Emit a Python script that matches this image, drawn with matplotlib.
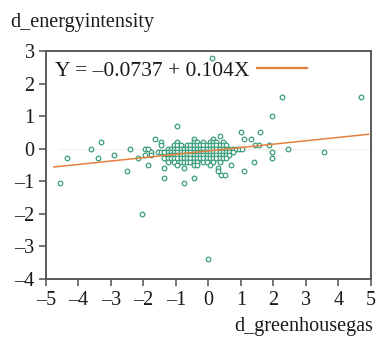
import matplotlib
matplotlib.use("Agg")
import matplotlib.pyplot as plt
from matplotlib.lines import Line2D

plt.rcParams['font.family'] = ['Liberation Serif', 'DejaVu Serif']
plt.rcParams['axes.unicode_minus'] = True

# scatter data, grouped by row (y value) -> list of x values
rows = {
    2.8: [0.1],
    1.6: [2.25, 4.7],
    1.0: [1.95],
    0.7: [-0.95],
    0.5: [1.0, 1.6],
    0.4: [0.35],
    0.3: [-1.65, -0.45, 0.15, 1.1, 1.3],
    0.2: [-3.3, -1.45, -0.95, -0.45, -0.35, -0.15, 0.05, 0.15, 0.25, 0.45],
    0.1: [-1.45, -1.05, -0.95, -0.85, -0.65, -0.55, -0.45, -0.35, -0.25, -0.15,
          -0.05, 0.05, 0.15, 0.25, 0.35, 0.45, 0.55, 1.45, 1.55, 1.85],
    0.0: [-3.6, -2.4, -1.95, -1.85, -1.25, -1.15, -1.05, -0.95, -0.85, -0.75,
          -0.65, -0.55, -0.45, -0.35, -0.25, -0.15, -0.05, 0.05, 0.15, 0.25,
          0.35, 0.45, 0.55, 0.65, 0.75, 0.85, 0.95, 1.05, 2.45],
    -0.1: [-1.75, -1.55, -1.45, -1.35, -1.25, -1.15, -1.05, -0.95, -0.85, -0.75,
           -0.65, -0.55, -0.45, -0.35, -0.25, -0.15, -0.05, 0.05, 0.15, 0.25,
           0.35, 0.45, 0.55, 0.65, 0.75, 1.95, 3.55],
    -0.2: [-2.9, -1.95, -1.75, -1.25, -1.15, -1.05, -0.95, -0.85, -0.75, -0.65,
           -0.55, -0.45, -0.35, -0.25, -0.15, -0.05, 0.05, 0.15, 0.25, 0.35,
           0.45, 0.55, 0.65],
    -0.3: [-4.35, -3.4, -2.15, -1.35, -1.25, -1.15, -1.05, -0.95, -0.85, -0.75,
           -0.65, -0.55, -0.45, -0.35, -0.25, -0.15, -0.05, 0.05, 0.15, 0.25,
           0.35, 0.45, 0.55, 1.95],
    -0.4: [-1.25, -1.05, -0.85, -0.75, -0.65, -0.55, -0.45, -0.35, -0.15, -0.05,
           0.15, 0.35, 1.4],
    -0.5: [-1.85, -0.95, -0.45, -0.35, 0.05, 0.7],
    -0.6: [-1.35, -0.75, 0.3],
    -0.7: [-2.5, 0.3, 1.1],
    -0.8: [0.4, 0.5],
    -0.9: [-1.35, -0.45],
    -1.05: [-4.55, -0.75],
    -2.0: [-2.05],
    -3.4: [0.0],
}
x_vals = [x for yv, xs in rows.items() for x in xs]
y_vals = [yv for yv, xs in rows.items() for x in xs]

intercept = -0.0737
slope = 0.104
fit_x = [-4.75, 4.92]
fit_y = [intercept + slope * v for v in fit_x]

x_ticks = [-5, -4, -3, -2, -1, 0, 1, 2, 3, 4, 5]
y_ticks = [-4, -3, -2, -1, 0, 1, 2, 3]

green = '#3a9e7c'
orange = '#e5803f'
frame = '#5a5a5a'

fig = plt.figure(figsize=(3.77, 3.38), dpi=100)
ax = fig.add_axes([0.1212, 0.176, 0.984 - 0.1212, 0.849 - 0.176])

ax.hlines(0, -4.6, 4.9, colors='#dddddd', linestyles=(0, (1, 1.5)), linewidth=0.8, zorder=1)
ax.scatter(x_vals, y_vals, s=11, facecolors='white', edgecolors=green, linewidths=0.9, zorder=3)
ax.plot(fit_x, fit_y, color=orange, linewidth=1.1, zorder=4)

ax.set_xlim(-5, 5)
ax.set_ylim(-4, 3)
ax.set_xticks(x_ticks)
ax.set_yticks(y_ticks)
ax.set_xticklabels([str(t).replace('-', '\u2013') for t in x_ticks])
ax.set_yticklabels([str(t).replace('-', '\u2013') for t in y_ticks])
ax.tick_params(axis='both', direction='out', length=5, width=1.2, color=frame,
               labelsize=14.5, labelcolor='#1a1a1a')
ax.tick_params(axis='x', pad=4)
ax.tick_params(axis='y', pad=3)
for s in ax.spines.values():
    s.set_color(frame)
    s.set_linewidth(1.4)

fig.text(10 / 377, 1 - 22 / 338, 'd_energyintensity', fontsize=14.5, ha='left', va='center', color='#1a1a1a')
fig.text(373 / 377, 1 - 327 / 338, 'd_greenhousegas', fontsize=14.5, ha='right', va='center', color='#1a1a1a')

handle = Line2D([0], [0], color=orange, linewidth=1.6)
leg = ax.legend([handle], ['Y = \u20130.0737 + 0.104X'], loc='upper left', frameon=False,
                fontsize=15.5, markerfirst=False, handlelength=2.3, handletextpad=0.35,
                borderaxespad=0.25, borderpad=0.2)
for t in leg.get_texts():
    t.set_color('#1a1a1a')

fig.savefig('out.png', dpi=100)
